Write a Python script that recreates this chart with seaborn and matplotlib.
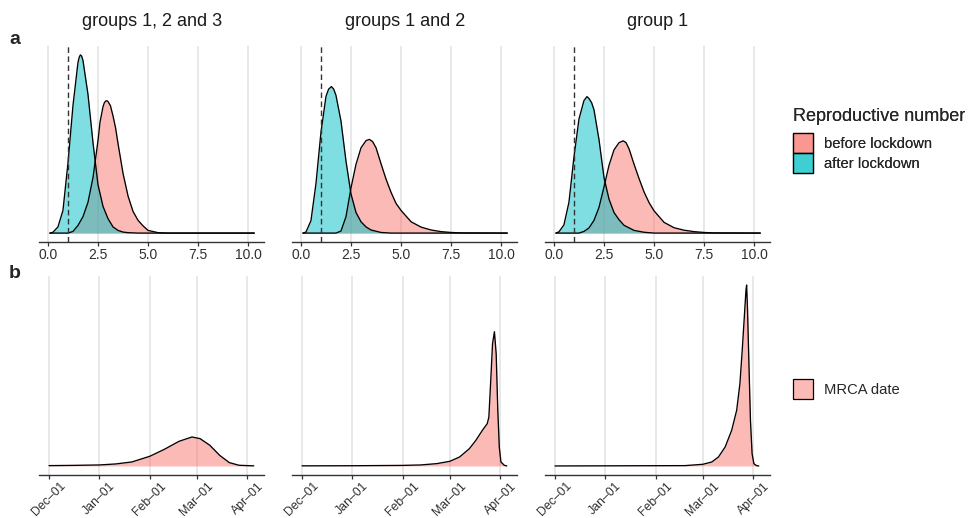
import numpy as np
import pandas as pd
import matplotlib
matplotlib.use("Agg")
import matplotlib.pyplot as plt
from matplotlib.patches import Patch
from matplotlib.colors import to_rgba
import seaborn as sns

# ---------------- data ----------------
groups = ["groups 1, 2 and 3", "groups 1 and 2", "group 1"]
r_labels = ["before lockdown", "after lockdown"]
mrca_label = "MRCA date"
r_ticks = [0.0, 2.5, 5.0, 7.5, 10.0]
r_tick_labels = ["0.0", "2.5", "5.0", "7.5", "10.0"]
date_ticks = ["2019-12-01", "2020-01-01", "2020-02-01", "2020-03-01", "2020-04-01"]
date_tick_labels = ["Dec\u201301", "Jan\u201301", "Feb\u201301", "Mar\u201301", "Apr\u201301"]

# reproductive number densities, groups 1, 2 and 3
r_before_g123_x = [0.1, 1.0, 1.25, 1.5, 1.75, 2.0, 2.25, 2.5, 2.6, 2.75, 2.82, 2.9, 2.96, 3.0,
                   3.12, 3.25, 3.38, 3.5, 3.75, 4.0, 4.25, 4.5, 4.75, 5.0, 5.5, 6.0, 10.3]
r_before_g123_y = [0.0, 0.0, 0.008, 0.037, 0.08, 0.15, 0.27, 0.45, 0.54, 0.615, 0.635, 0.644, 0.643, 0.64,
                   0.62, 0.57, 0.51, 0.435, 0.29, 0.18, 0.105, 0.062, 0.035, 0.013, 0.002, 0.0, 0.0]
r_after_g123_x = [0.1, 0.25, 0.5, 0.75, 1.0, 1.25, 1.5, 1.56, 1.62, 1.68, 1.75, 2.0, 2.25, 2.5,
                  2.75, 3.0, 3.25, 3.5, 3.75, 4.0, 4.5, 10.3]
r_after_g123_y = [0.0, 0.004, 0.03, 0.11, 0.34, 0.62, 0.83, 0.855, 0.867, 0.862, 0.84, 0.675, 0.44, 0.235,
                  0.13, 0.07, 0.03, 0.013, 0.005, 0.002, 0.0, 0.0]

# groups 1 and 2
r_before_g12_x = [0.1, 1.75, 2.0, 2.25, 2.5, 2.75, 3.0, 3.25, 3.42, 3.58, 3.75, 4.0, 4.25, 4.5,
                  4.75, 5.0, 5.5, 6.0, 6.5, 7.0, 7.5, 8.0, 10.3]
r_before_g12_y = [0.0, 0.0, 0.01, 0.08, 0.22, 0.335, 0.415, 0.45, 0.456, 0.445, 0.415, 0.337, 0.262, 0.198,
                  0.144, 0.11, 0.055, 0.029, 0.015, 0.007, 0.003, 0.001, 0.0]
r_after_g12_x = [0.1, 0.25, 0.5, 0.75, 1.0, 1.25, 1.38, 1.52, 1.64, 1.75, 2.0, 2.25, 2.5, 2.75,
                 3.0, 3.25, 3.5, 4.0, 4.5, 10.3]
r_after_g12_y = [0.0, 0.005, 0.06, 0.24, 0.49, 0.665, 0.70, 0.713, 0.70, 0.67, 0.545, 0.35, 0.19, 0.10,
                 0.055, 0.03, 0.015, 0.003, 0.0, 0.0]

# group 1
r_before_g1_x = [0.1, 1.25, 1.5, 1.75, 2.0, 2.25, 2.5, 2.75, 3.0, 3.25, 3.46, 3.6, 3.75, 4.0,
                 4.25, 4.5, 4.75, 5.0, 5.5, 6.0, 6.5, 7.0, 7.5, 8.0, 10.3]
r_before_g1_y = [0.0, 0.0, 0.008, 0.025, 0.062, 0.125, 0.225, 0.33, 0.405, 0.44, 0.449, 0.44, 0.41, 0.335,
                 0.265, 0.2, 0.148, 0.108, 0.052, 0.026, 0.014, 0.007, 0.003, 0.001, 0.0]
r_after_g1_x = [0.1, 0.25, 0.5, 0.75, 1.0, 1.25, 1.5, 1.65, 1.75, 1.88, 2.0, 2.25, 2.5, 2.75,
                3.0, 3.25, 3.5, 4.0, 4.5, 5.0, 10.3]
r_after_g1_y = [0.0, 0.006, 0.04, 0.15, 0.37, 0.555, 0.645, 0.664, 0.655, 0.635, 0.6, 0.455, 0.27, 0.165,
                0.1, 0.065, 0.038, 0.013, 0.004, 0.0, 0.0]

# MRCA date densities
mrca_g123_dates = ["2019-12-01", "2019-12-15", "2020-01-01", "2020-01-11", "2020-01-21",
                   "2020-02-01", "2020-02-10", "2020-02-19", "2020-02-27", "2020-03-03",
                   "2020-03-09", "2020-03-15", "2020-03-21", "2020-03-27", "2020-04-05"]
mrca_g123_dens = [0.0003, 0.0005, 0.0009, 0.0018, 0.0036,
                  0.0087, 0.0150, 0.0222, 0.0261, 0.0246,
                  0.0186, 0.0096, 0.0030, 0.0006, 0.0001]

mrca_g12_dates = ["2019-12-01", "2020-01-01", "2020-02-01", "2020-02-12", "2020-02-22",
                  "2020-03-01", "2020-03-07", "2020-03-13", "2020-03-17", "2020-03-21",
                  "2020-03-24", "2020-03-25", "2020-03-26 06:00", "2020-03-27 06:00",
                  "2020-03-28 10:00", "2020-03-29 12:00", "2020-03-30 12:00",
                  "2020-03-31 10:00", "2020-04-01 10:00", "2020-04-03 12:00", "2020-04-05"]
mrca_g12_dens = [0.0001, 0.0002, 0.0005, 0.0009, 0.0021,
                 0.0042, 0.0081, 0.0156, 0.0231, 0.0321,
                 0.0381, 0.0441, 0.080, 0.110,
                 0.121, 0.101, 0.050,
                 0.017, 0.0036, 0.0006, 0.0]

mrca_g1_dates = ["2019-12-01", "2020-02-19", "2020-03-01", "2020-03-06 12:00", "2020-03-10 14:00",
                 "2020-03-14 17:00", "2020-03-18 17:00", "2020-03-21 19:00", "2020-03-23 19:00",
                 "2020-03-25 05:00", "2020-03-26 12:00", "2020-03-27 12:00", "2020-03-27 22:00",
                 "2020-03-28 12:00", "2020-03-29 07:00", "2020-03-30 07:00", "2020-03-31 07:00",
                 "2020-04-01 10:00", "2020-04-03", "2020-04-04 10:00"]
mrca_g1_dens = [0.0, 0.0003, 0.0015, 0.0036, 0.0081,
                0.0171, 0.0321, 0.0501, 0.0741,
                0.1041, 0.1341, 0.158, 0.163,
                0.140, 0.095, 0.041, 0.011,
                0.002, 0.0003, 0.0]

r_curves = [
    ((r_before_g123_x, r_before_g123_y), (r_after_g123_x, r_after_g123_y)),
    ((r_before_g12_x, r_before_g12_y), (r_after_g12_x, r_after_g12_y)),
    ((r_before_g1_x, r_before_g1_y), (r_after_g1_x, r_after_g1_y)),
]
mrca_curves = [(mrca_g123_dates, mrca_g123_dens), (mrca_g12_dates, mrca_g12_dens),
               (mrca_g1_dates, mrca_g1_dens)]

# ---------------- style ----------------
sns.set_theme(style="white")
plt.rcParams['font.family'] = ['Liberation Sans', 'DejaVu Sans']

PINK = "#F8766D"
CYAN = "#00BFC4"
ALPHA = 0.5
GRID = "#E1E1E1"
AXC = "#333333"

W, H = 971, 518
fig = plt.figure(figsize=(W / 100, H / 100), dpi=100)


def rect(left, top, width, height):
    return [left / W, 1 - (top + height) / H, width / W, height / H]


lefts = [39.3, 292.3, 545.3]
pw = 225
top_row = (46, 196)
bot_row = (276, 199)

r_max = max(max(c[1]) for pair in r_curves for c in pair)
m_max = max(max(c[1]) for c in mrca_curves)

date0 = pd.Timestamp("2019-12-01")
d_ticks = pd.to_datetime(date_ticks)


def style_ax(ax, labelsize, pad):
    for s in ["left", "top", "right"]:
        ax.spines[s].set_visible(False)
    ax.spines["bottom"].set_color(AXC)
    ax.spines["bottom"].set_linewidth(1.0)
    ax.set_yticks([])
    ax.grid(axis="x", color=GRID, lw=1.1)
    ax.grid(axis="y", visible=False)
    ax.set_axisbelow(True)
    ax.tick_params(axis="x", bottom=True, length=3, width=0.9, color=AXC,
                   labelsize=labelsize, labelcolor="#303030", pad=pad)
    ax.set_xlabel("")
    ax.set_ylabel("")
    ax.set_facecolor("none")


for i in range(3):
    # top row: reproductive number
    ax = fig.add_axes(rect(lefts[i], top_row[0], pw, top_row[1]))
    for (xs, ys), col in zip(r_curves[i], [PINK, CYAN]):
        ax.fill_between(xs, ys, 0, color=col, alpha=ALPHA, lw=0)
        sns.lineplot(x=xs, y=ys, ax=ax, color="black", lw=0.95)
    ax.axvline(1.0, color=AXC, lw=1.0, ls=(0, (4, 2.5)))
    ax.set_xlim(-0.43, 10.8)
    ax.set_ylim(-0.05 * r_max, 1.05 * r_max)
    ax.set_xticks(r_ticks)
    ax.set_xticklabels(r_tick_labels)
    style_ax(ax, 10, 1.5)

    # bottom row: MRCA date
    ax2 = fig.add_axes(rect(lefts[i], bot_row[0], pw, bot_row[1]))
    dts = pd.to_datetime(mrca_curves[i][0], format="mixed")
    dens = np.array(mrca_curves[i][1])
    ax2.fill_between(dts, dens, 0, color=PINK, alpha=ALPHA, lw=0)
    sns.lineplot(x=dts, y=dens, ax=ax2, color="black", lw=0.95)
    ax2.set_xlim(date0 - pd.Timedelta(days=6.0), date0 + pd.Timedelta(days=132.5))
    ax2.set_ylim(-0.05 * m_max, 1.05 * m_max)
    ax2.set_xticks(d_ticks)
    ax2.set_xticklabels(date_tick_labels, rotation=45, ha="center", va="top")
    style_ax(ax2, 8.8, 0.6)

    fig.text((lefts[i] + pw / 2) / W, 1 - 21 / H, groups[i], ha="center", va="center",
             fontsize=13, color="#1A1A1A")

fig.text(15 / W, 1 - 40 / H, "a", ha="center", va="center", fontsize=14, fontweight="bold")
fig.text(15 / W, 1 - 273 / H, "b", ha="center", va="center", fontsize=14, fontweight="bold")

# legends
LFS = 10.6
HH = 1.714
leg1 = fig.legend(
    handles=[Patch(facecolor=to_rgba(PINK, ALPHA), edgecolor="black", lw=0.9),
             Patch(facecolor=to_rgba(CYAN, ALPHA), edgecolor="black", lw=0.9)],
    labels=r_labels, title="Reproductive number", loc="upper left",
    bbox_to_anchor=(793 / W, 1 - 108 / H), frameon=False, fontsize=LFS,
    title_fontsize=13, handlelength=1.36, handleheight=HH, handletextpad=0.75,
    labelspacing=0, borderpad=0, borderaxespad=0, alignment="left")
leg1._legend_box.sep = 6

leg2 = fig.legend(
    handles=[Patch(facecolor=to_rgba(PINK, ALPHA), edgecolor="black", lw=0.9)],
    labels=[mrca_label], loc="upper left",
    bbox_to_anchor=(793 / W, 1 - 379 / H), frameon=False, fontsize=LFS,
    handlelength=1.36, handleheight=HH, handletextpad=0.75,
    labelspacing=0, borderpad=0, borderaxespad=0)
fig.add_artist(leg1)

fig.savefig("out.png", dpi=100)
